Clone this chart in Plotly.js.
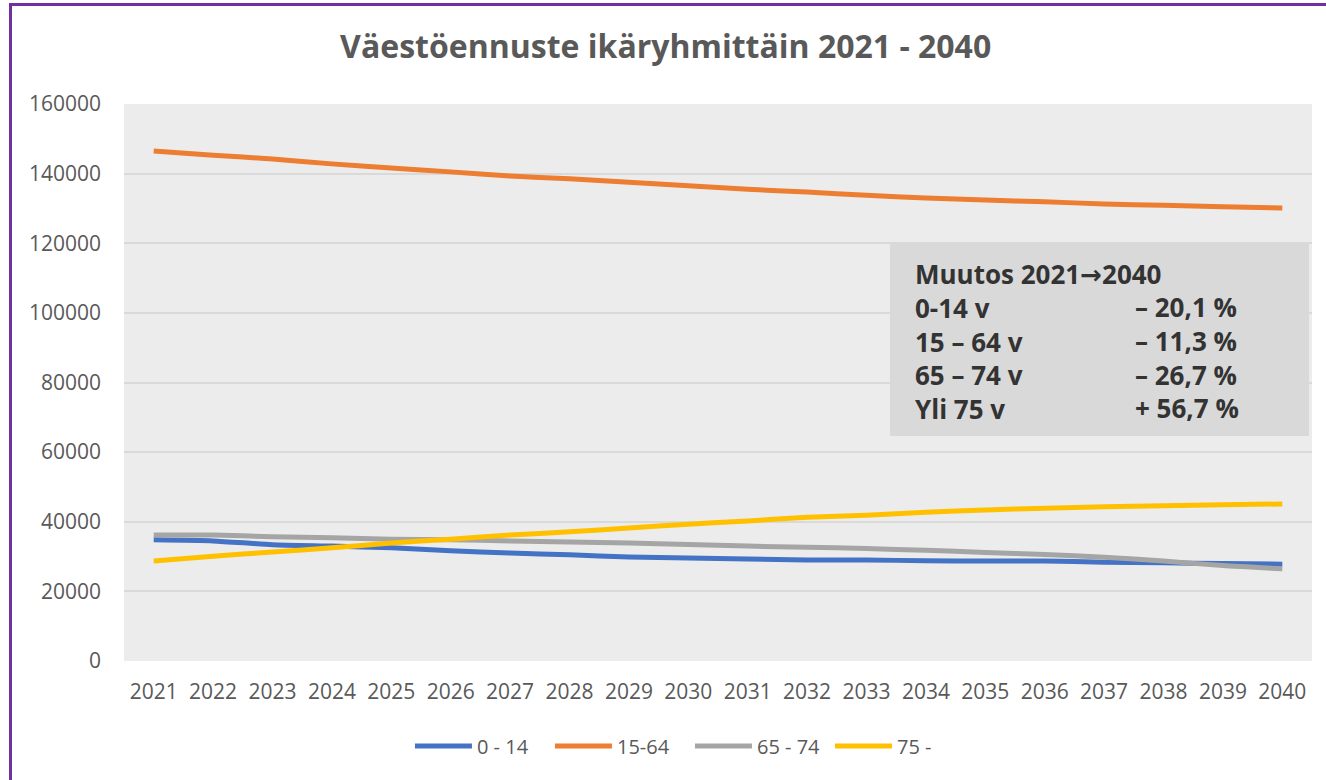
<!DOCTYPE html>
<html>
<head>
<meta charset="utf-8">
<script src="https://cdn.plot.ly/plotly-3.0.1.min.js"></script>
<style>
  html, body { margin: 0; padding: 0; background: #ffffff; }
  #chart { position: absolute; left: 0; top: 0; width: 1326px; height: 780px; }
  #frame { position: absolute; left: 9px; top: 3px; width: 1400px; height: 900px;
           border-left: 3px solid #7030a0; border-top: 3px solid #7030a0;
           pointer-events: none; z-index: 10; }
</style>
</head>
<body>
<div id="chart"></div>
<div id="frame"></div>
<script>
// ---- data ----
const years = ['2021','2022','2023','2024','2025','2026','2027','2028','2029','2030',
               '2031','2032','2033','2034','2035','2036','2037','2038','2039','2040'];
const seriesNames = ['0 - 14', '15-64', '65 - 74', '75 -'];
const age0_14  = [34800, 34500, 33400, 33000, 32500, 31700, 31000, 30500, 29900, 29600,
                  29300, 29000, 29000, 28800, 28700, 28700, 28400, 28200, 28000, 27800];
const age15_64 = [146500, 145300, 144200, 142800, 141600, 140500, 139300, 138500, 137500, 136500,
                  135500, 134700, 133800, 133000, 132400, 131900, 131300, 130900, 130500, 130100];
const age65_74 = [36200, 36200, 35700, 35400, 35000, 34800, 34500, 34200, 33900, 33500,
                  33000, 32700, 32300, 31800, 31200, 30600, 29800, 28700, 27400, 26500];
const age75    = [28700, 30100, 31300, 32500, 33900, 35000, 36200, 37100, 38200, 39300,
                  40200, 41300, 41900, 42700, 43400, 43900, 44300, 44600, 44900, 45100];
const seriesColors = ['#4472c4', '#ed7d31', '#a5a5a5', '#ffc000'];
const boxLabels = ['Muutos 2021<span style="font-family:DejaVu Sans">→</span>2040', '0-14 v', '15 – 64 v', '65 – 74 v', 'Yli 75 v'];
const boxValues = ['– 20,1 %', '– 11,3 %', '– 26,7 %', '+ 56,7 %'];
const yTicks = [0, 20000, 40000, 60000, 80000, 100000, 120000, 140000, 160000];

// ---- chart ----
const allSeries = [age0_14, age15_64, age65_74, age75];
const traces = allSeries.map((vals, i) => ({
  type: 'scatter', mode: 'lines', x: years, y: vals, name: seriesNames[i],
  line: { color: seriesColors[i], width: 5, shape: 'spline', smoothing: 0.6 },
  hoverinfo: 'x+y+name'
}));

const boxFont = { family: 'Open Sans, sans-serif', size: 26, color: '#333333' };
const annotations = [
  { xref: 'paper', yref: 'paper', x: 0.664, y: 0.5745, xanchor: 'left', yanchor: 'middle', align: 'left',
    text: boxLabels.map(t => '<b>' + t + '</b>').join('<br>'), showarrow: false, font: boxFont },
  { xref: 'paper', yref: 'paper', x: 0.849, y: 0.5445, xanchor: 'left', yanchor: 'middle', align: 'left',
    text: boxValues.map(t => '<b>' + t + '</b>').join('<br>'), showarrow: false, font: boxFont }
];

const layout = {
  width: 1326, height: 780,
  margin: { l: 124, r: 14, t: 104, b: 119 },
  paper_bgcolor: '#ffffff',
  plot_bgcolor: '#ececec',
  title: { text: '<b>Väestöennuste ikäryhmittäin 2021 - 2040</b>', x: 0.502, xanchor: 'center',
           xref: 'container', y: 1 - 47/780, yanchor: 'middle', yref: 'container',
           font: { family: 'Open Sans, sans-serif', size: 32, color: '#595959' } },
  font: { family: 'Open Sans, sans-serif', color: '#595959' },
  xaxis: { type: 'category', range: [-0.5, 19.5], showgrid: false, zeroline: false,
           showline: false, ticks: '', tickfont: { size: 21, color: '#595959' },
           ticklabelstandoff: 16, fixedrange: true },
  yaxis: { range: [0, 160000], tickvals: yTicks, tickformat: 'd', showgrid: true,
           gridcolor: '#d9d9d9', gridwidth: 2, zeroline: false, showline: false, ticks: '',
           tickfont: { size: 21, color: '#595959' }, ticklabelstandoff: 22, fixedrange: true },
  showlegend: true,
  legend: { orientation: 'h', x: 0.2407, xanchor: 'left', y: -0.1526, yanchor: 'middle',
            font: { size: 20, color: '#595959' }, itemwidth: 57, entrywidth: 68, entrywidthmode: 'pixels',
            tracegroupgap: 0, bgcolor: 'rgba(0,0,0,0)' },
  shapes: [{ type: 'rect', xref: 'paper', yref: 'paper', x0: 0.6448, x1: 0.9975, y0: 0.404, y1: 0.7504,
             fillcolor: '#d9d9d9', line: { width: 0 }, layer: 'above' }],
  annotations: annotations
};

Plotly.newPlot('chart', traces, layout, { displayModeBar: false, staticPlot: true });
</script>
</body>
</html>
